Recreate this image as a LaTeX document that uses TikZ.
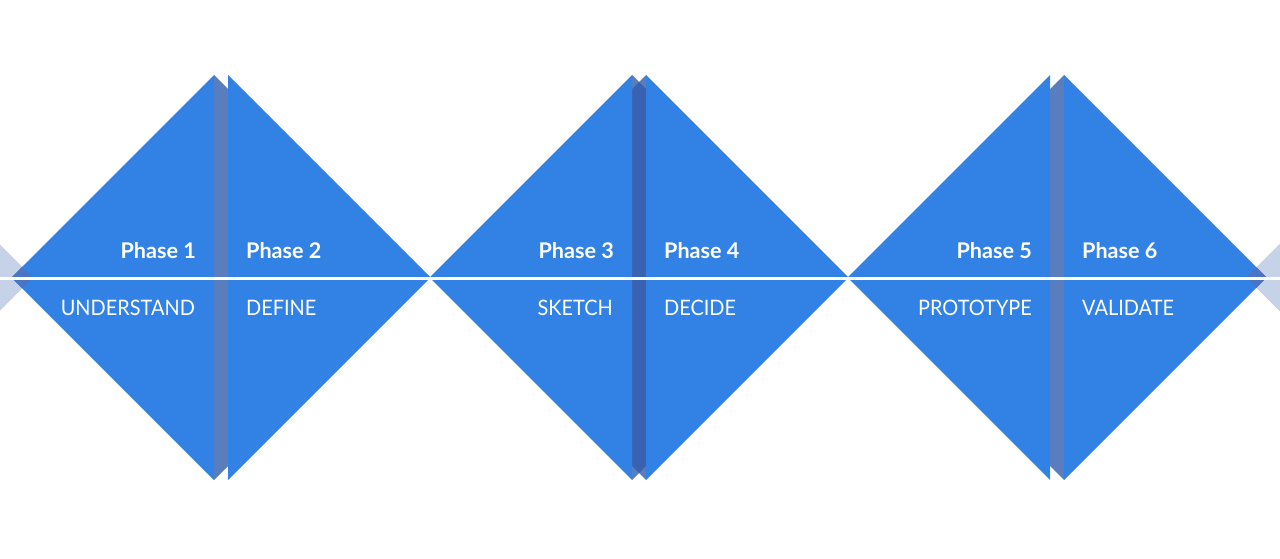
\documentclass[tikz,border=0pt]{standalone}
\usepackage{fontspec}
\setmainfont{Lato}
\newfontfamily\stagefont{Lato}[FakeStretch=0.935]
\definecolor{blu}{HTML}{3282E6}
\definecolor{shade}{HTML}{315CAE}
\definecolor{lite}{HTML}{C6D2E7}
\definecolor{liteov}{HTML}{4B74C2}
\tikzset{
  blutri/.style={fill=blu, draw=none},
  shadowtri/.style={fill=shade, fill opacity=0.8, draw=none},
  phasetext/.style={font=\fontsize{21.6}{21.6}\selectfont\bfseries, text=white, inner sep=0pt},
  stagetext/.style={font=\stagefont\fontsize{21.3}{21.3}\selectfont, text=white, inner sep=0pt},
}
\begin{document}
\begin{tikzpicture}[x=1pt,y=-1pt]
\useasboundingbox (0,0) rectangle (1280,559);
% light side triangles
\begin{scope}
\clip (0,0) rectangle (1280,559);
\fill[lite] (33,277.5) -- (-20,224.5) -- (-20,330.5) -- cycle;
\fill[lite] (1246,277.5) -- (1300,223.5) -- (1300,331.5) -- cycle;
\end{scope}
% shadow copies (visible only in the strips)
\fill[shadowtri] (214,75) -- (416.5,277.5) -- (214,480) -- cycle;
\fill[shadowtri] (646,75) -- (646,480) -- (443.5,277.5) -- cycle;
\fill[shadowtri] (632,75) -- (834.5,277.5) -- (632,480) -- cycle;
\fill[shadowtri] (1064,75) -- (1064,480) -- (861.5,277.5) -- cycle;
% main triangles
\foreach \k in {0,1,2}{
  \pgfmathsetmacro{\ax}{214+418*\k}
  \pgfmathsetmacro{\bx}{228+418*\k}
  \fill[blutri] (\ax-202.5,277.5) -- (\ax,75) -- (\ax,480) -- cycle;
  \fill[blutri] (\bx,75) -- (\bx+202.5,277.5) -- (\bx,480) -- cycle;
}
% overlaps of the light side triangles with the blue ones
\fill[liteov] (11.5,277.5) -- (22.25,266.75) -- (33,277.5) -- (22.25,288.25) -- cycle;
\fill[liteov] (1246,277.5) -- (1256.25,267.25) -- (1266.5,277.5) -- (1256.25,287.75) -- cycle;
% white axis line
\coordinate (lineL) at (0,278.5);
\coordinate (lineR) at (1280,278.5);
\draw[white, line width=3.8pt] (lineL) -- (lineR);
% texts
\node[phasetext, anchor=base east] (p1) at (196,258.5) {Phase 1};
\node[stagetext, anchor=base east] (s1) at (195,315) {UNDERSTAND};
\node[phasetext, anchor=base west] (p2) at (246,258.5) {Phase 2};
\node[stagetext, anchor=base west] (s2) at (246,315) {DEFINE};
\node[phasetext, anchor=base east] (p3) at (614,258.5) {Phase 3};
\node[stagetext, anchor=base east] (s3) at (613,315) {SKETCH};
\node[phasetext, anchor=base west] (p4) at (664,258.5) {Phase 4};
\node[stagetext, anchor=base west] (s4) at (664,315) {DECIDE};
\node[phasetext, anchor=base east] (p5) at (1032,258.5) {Phase 5};
\node[stagetext, anchor=base east] (s5) at (1032,315) {PROTOTYPE};
\node[phasetext, anchor=base west] (p6) at (1082,258.5) {Phase 6};
\node[stagetext, anchor=base west] (s6) at (1082,315) {VALIDATE};
\end{tikzpicture}
\end{document}
